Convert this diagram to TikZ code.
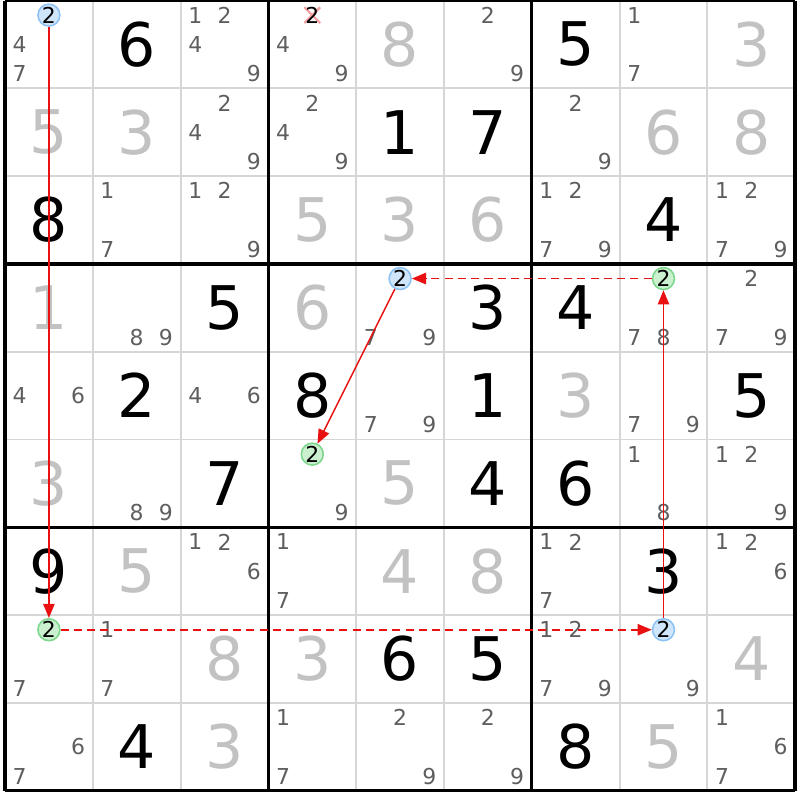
\documentclass[tikz,border=0pt]{standalone}
\usepackage{fontspec}
\setmainfont{DejaVu Sans}
\usetikzlibrary{arrows.meta}

\definecolor{candgray}{HTML}{5E5E5E}
\definecolor{solvedgray}{HTML}{C2C2C2}
\definecolor{thingrid}{HTML}{D6D6D6}
\definecolor{linkred}{HTML}{E81010}
\definecolor{crosspink}{HTML}{F4A0A0}
\definecolor{onfill}{HTML}{CFE5FA}
\definecolor{ondraw}{HTML}{8CC2F4}
\definecolor{offfill}{HTML}{CBF0D0}
\definecolor{offdraw}{HTML}{7CD68C}

\newcommand{\cands}[3]{%
  \foreach \dg in {#3}{%
    \pgfmathsetmacro{\cx}{#2-1+(mod(\dg-1,3)+0.5)/3}%
    \pgfmathsetmacro{\cy}{-(#1-1)-(floor((\dg-1)/3)+0.5)/3}%
    \node [cand] (k#1#2\dg) at (\cx,\cy) {\dg};
  }%
}

\begin{document}
\begin{tikzpicture}[
  cand/.style={inner sep=0pt, text=candgray, font=\fontsize{7.1}{8}\selectfont},
  given/.style={inner sep=0pt, text=black, font=\fontsize{19.5}{21}\selectfont},
  solved/.style={inner sep=0pt, text=solvedgray, font=\fontsize{19.5}{21}\selectfont},
  onmark/.style={cand, text=black, circle, minimum size=0.25cm, fill=onfill, draw=ondraw, line width=0.5pt},
  offmark/.style={cand, text=black, circle, minimum size=0.25cm, fill=offfill, draw=offdraw, line width=0.5pt},
  strong/.style={draw=linkred, line width=0.5pt, -{Triangle[length=4.6pt,width=3.7pt]}},
  weak/.style={strong, dash pattern=on 2.6pt off 1.7pt}
]
\useasboundingbox (-0.057,0.006) rectangle (9.055,-9.106);

\foreach \i in {1,2,4,5,7,8} {
  \draw [thingrid, line width=0.6pt] (\i,0) -- (\i,-9);
  \draw [thingrid, line width=0.6pt] (0,-\i) -- (9,-\i);
}
\foreach \i in {0,3,6,9} {
  \draw [black, line width=1.1pt] (\i,0) -- (\i,-9);
  \draw [black, line width=1.1pt] (0,-\i) -- (9,-\i);
}

\foreach \r/\c/\v in {1/2/6, 1/7/5, 2/5/1, 2/6/7, 3/1/8, 3/8/4, 4/3/5, 4/6/3, 4/7/4,
  5/2/2, 5/4/8, 5/6/1, 5/9/5, 6/3/7, 6/6/4, 6/7/6, 7/1/9, 7/8/3, 8/5/6, 8/6/5,
  9/2/4, 9/7/8}
  \node [given] (g\r\c) at (\c-0.5,0.5-\r) {\v};

\foreach \r/\c/\v in {1/5/8, 1/9/3, 2/1/5, 2/2/3, 2/8/6, 2/9/8, 3/4/5, 3/5/3, 3/6/6,
  4/1/1, 4/4/6, 5/7/3, 6/1/3, 6/5/5, 7/2/5, 7/5/4, 7/6/8, 8/3/8, 8/4/3, 8/9/4,
  9/3/3, 9/8/5}
  \node [solved] (s\r\c) at (\c-0.5,0.5-\r) {\v};

\cands{1}{1}{4,7}
\cands{1}{3}{1,2,4,9}
\cands{1}{4}{4,9}
\cands{1}{6}{2,9}
\cands{1}{8}{1,7}
\cands{2}{3}{2,4,9}
\cands{2}{4}{2,4,9}
\cands{2}{7}{2,9}
\cands{3}{2}{1,7}
\cands{3}{3}{1,2,9}
\cands{3}{7}{1,2,7,9}
\cands{3}{9}{1,2,7,9}
\cands{4}{2}{8,9}
\cands{4}{5}{7,9}
\cands{4}{8}{7,8}
\cands{4}{9}{2,7,9}
\cands{5}{1}{4,6}
\cands{5}{3}{4,6}
\cands{5}{5}{7,9}
\cands{5}{8}{7,9}
\cands{6}{2}{8,9}
\cands{6}{4}{9}
\cands{6}{8}{1,8}
\cands{6}{9}{1,2,9}
\cands{7}{3}{1,2,6}
\cands{7}{4}{1,7}
\cands{7}{7}{1,2,7}
\cands{7}{9}{1,2,6}
\cands{8}{1}{7}
\cands{8}{2}{1,7}
\cands{8}{7}{1,2,7,9}
\cands{8}{8}{9}
\cands{9}{1}{6,7}
\cands{9}{4}{1,7}
\cands{9}{5}{2,9}
\cands{9}{6}{2,9}
\cands{9}{9}{1,6,7}

\draw [crosspink, line width=0.7pt] (3.41,-0.077) -- (3.59,-0.257);
\draw [crosspink, line width=0.7pt] (3.41,-0.257) -- (3.59,-0.077);
\node [cand, text=black] (x142) at (3.5,-0.1667) {2};

\node [onmark] (a112) at (0.5,-0.1667) {2};
\node [offmark] (b812) at (0.5,-7.1667) {2};
\node [onmark] (a882) at (7.5,-7.1667) {2};
\node [offmark] (b482) at (7.5,-3.1667) {2};
\node [onmark] (a452) at (4.5,-3.1667) {2};
\node [offmark] (b642) at (3.5,-5.1667) {2};

\draw [strong] (a112) -- (b812);
\draw [weak] (b812) -- (a882);
\draw [strong] (a882) -- (b482);
\draw [weak] (b482) -- (a452);
\draw [strong] (a452) -- (b642);

\end{tikzpicture}
\end{document}
